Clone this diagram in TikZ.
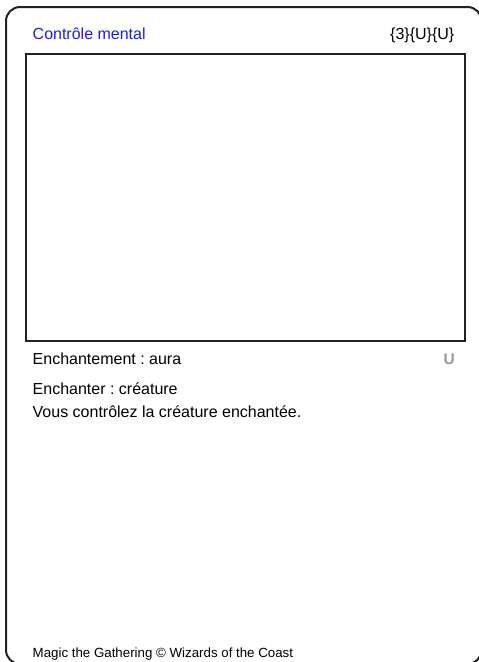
\documentclass[tikz,border=0pt]{standalone}
\usepackage{fontspec}
\setmainfont{Liberation Sans}
\frenchspacing
\definecolor{cardline}{HTML}{222222}
\definecolor{titleblue}{HTML}{1A1AFF}
\definecolor{raregray}{HTML}{999999}
\begin{document}
\begin{tikzpicture}[x=1pt,y=-1pt,
  txt/.style={inner sep=0pt,font=\fontsize{16}{19}\selectfont,text=black},
  frame/.style={draw=cardline,line width=2pt}]
\useasboundingbox (0,0) rectangle (479,662);
\draw[frame,rounded corners=14pt] (6,7) rectangle (481.5,664);
\node[frame,inner sep=0pt,minimum width=438.5pt,minimum height=287pt,anchor=north west] (art) at (25,53) {};
\node[txt,text=titleblue,anchor=base west] (name) at (32.5,39) {Contrôle mental};
\node[txt,anchor=base east] (cost) at (454.5,39) {\{3\}\{U\}\{U\}};
\node[txt,anchor=base west] (type) at (32.5,364) {Enchantement : aura};
\node[txt,font=\fontsize{15.5}{18}\selectfont\bfseries,text=raregray,anchor=base east] (rarity) at (455,364) {U};
\node[txt,anchor=base west] (rule1) at (32.5,394.5) {Enchanter : créature};
\node[txt,anchor=base west] (rule2) at (32.5,417.5) {Vous contrôlez la créature enchantée.};
\node[txt,font=\fontsize{13.3}{16}\selectfont,anchor=base west] (foot) at (32.5,657) {Magic the Gathering © Wizards of the Coast};
\end{tikzpicture}
\end{document}
